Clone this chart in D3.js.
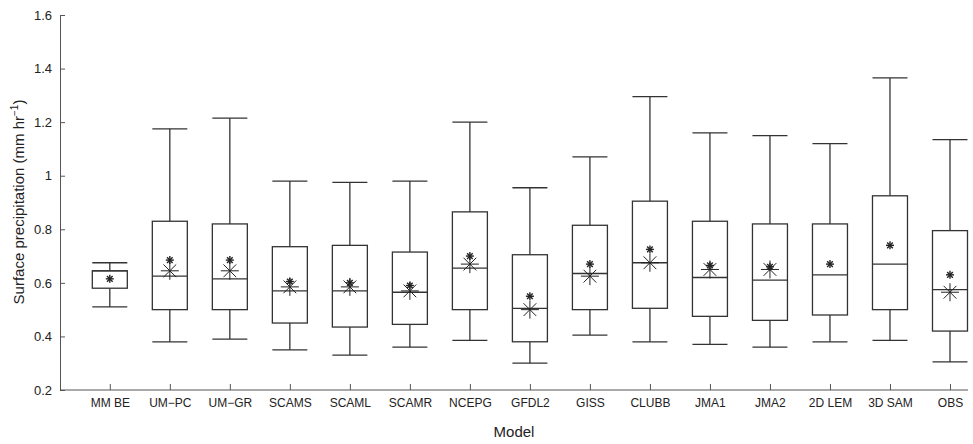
<!DOCTYPE html>
<html><head><meta charset="utf-8">
<script src="https://cdn.jsdelivr.net/npm/d3@7"></script>
<style>body{margin:0;background:#fff}text{font-family:"Liberation Sans",Arial,sans-serif;fill:#222}</style>
</head><body><svg id="chart" width="973" height="444"></svg>
<script>
const models = ["MM BE","UM\u2212PC","UM\u2212GR","SCAMS","SCAML","SCAMR","NCEPG","GFDL2","GISS","CLUBB","JMA1","JMA2","2D LEM","3D SAM","OBS"]
const whiskerLow = [0.51,0.38,0.39,0.35,0.33,0.36,0.385,0.30,0.405,0.38,0.37,0.36,0.38,0.385,0.305]
const q1 = [0.58,0.50,0.50,0.45,0.435,0.445,0.50,0.38,0.50,0.505,0.475,0.46,0.48,0.50,0.42]
const median = [0.645,0.625,0.615,0.57,0.57,0.565,0.655,0.505,0.635,0.675,0.62,0.61,0.63,0.67,0.575]
const q3 = [0.645,0.83,0.82,0.735,0.74,0.715,0.865,0.705,0.815,0.905,0.83,0.82,0.82,0.925,0.795]
const whiskerHigh = [0.675,1.175,1.215,0.98,0.975,0.98,1.20,0.955,1.07,1.295,1.16,1.15,1.12,1.365,1.135]
const smallStar = [0.615,0.685,0.685,0.605,0.60,0.59,0.70,0.55,0.67,0.725,0.665,0.66,0.67,0.74,0.63]
const bigStar = [null,0.645,0.645,0.585,0.585,0.57,0.67,0.50,0.625,0.675,0.65,0.65,null,null,0.565]
const yTicks = [0.2,0.4,0.6,0.8,1,1.2,1.4,1.6]

const svg = d3.select("#chart")
const x = d3.scaleLinear().domain([-0.83, 14.3]).range([60, 968])
const y = d3.scaleLinear().domain([0.2, 1.6]).range([390, 15])
const bw = 35

svg.append("g").attr("transform", "translate(60,0)")
    .call(d3.axisLeft(y).tickValues(yTicks).tickSize(-5).tickPadding(8).tickFormat(d3.format("")))
    .call(g => g.selectAll("text").style("font-size", "13px"))
const xa = svg.append("g").attr("transform", "translate(0,390)")
    .call(d3.axisBottom(x).tickValues(d3.range(models.length)).tickSize(-6).tickPadding(8).tickFormat(i => models[i]))
xa.select(".domain").attr("d", "M60,0H968")
xa.selectAll("text").style("font-size", "12px")
svg.selectAll(".domain,.tick line").attr("stroke", "#555")

const star = (g, cx, cy, r, w) => {
    for (let k = 0; k < 4; k++) {
        const a = k * Math.PI / 4
        g.append("line").attr("x1", cx - r * Math.cos(a)).attr("y1", cy - r * Math.sin(a))
            .attr("x2", cx + r * Math.cos(a)).attr("y2", cy + r * Math.sin(a))
            .attr("stroke", "#222").attr("stroke-width", w)
    }
}

models.forEach((m, i) => {
    const g = svg.append("g").attr("stroke", "#333").attr("stroke-width", 1.3).attr("fill", "none")
    const cx = x(i)
    g.append("line").attr("x1", cx).attr("x2", cx).attr("y1", y(whiskerHigh[i])).attr("y2", y(q3[i]))
    g.append("line").attr("x1", cx).attr("x2", cx).attr("y1", y(q1[i])).attr("y2", y(whiskerLow[i]))
    g.append("line").attr("x1", cx - bw / 2).attr("x2", cx + bw / 2).attr("y1", y(whiskerHigh[i])).attr("y2", y(whiskerHigh[i]))
    g.append("line").attr("x1", cx - bw / 2).attr("x2", cx + bw / 2).attr("y1", y(whiskerLow[i])).attr("y2", y(whiskerLow[i]))
    g.append("rect").attr("x", cx - bw / 2).attr("width", bw).attr("y", y(q3[i])).attr("height", y(q1[i]) - y(q3[i]))
    g.append("line").attr("x1", cx - bw / 2).attr("x2", cx + bw / 2).attr("y1", y(median[i])).attr("y2", y(median[i]))
    star(svg, cx, y(smallStar[i]), 4, 1.4)
    if (bigStar[i] != null) star(svg, cx, y(bigStar[i]), 9, 1)
})

svg.append("text").attr("x", 514).attr("y", 437).attr("text-anchor", "middle").style("font-size", "15px").text("Model")
svg.append("text").attr("transform", "translate(24,202) rotate(-90)").attr("text-anchor", "middle").style("font-size", "15px")
    .html('Surface precipitation (mm hr<tspan dy="-6" font-size="10">\u22121</tspan><tspan dy="6">)</tspan>')
</script></body></html>
